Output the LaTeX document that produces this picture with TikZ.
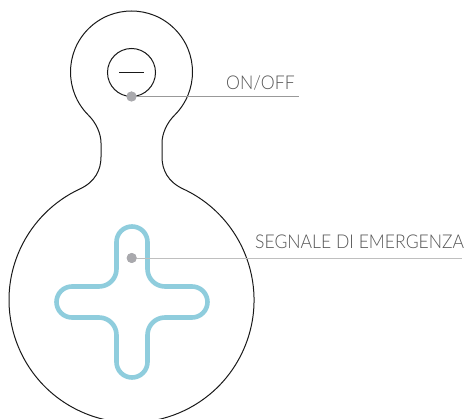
\documentclass[tikz,border=0pt]{standalone}
\usepackage{fontspec}
\setmainfont{Lato}[UprightFont={* Light},FakeStretch=0.925]
\tikzset{
  outline/.style={draw=black!90, line width=1pt},
  crossline/.style={draw=crossblue, line width=4.6pt, line join=round},
  dotmark/.style={circle, fill=dotgray, inner sep=0pt, minimum size=10pt},
  leader/.style={line width=0.9pt},
  labeltext/.style={text=labelgray, font=\fontsize{19}{19}\selectfont, inner sep=0pt, anchor=base west}
}
\definecolor{crossblue}{HTML}{8FCDDD}
\definecolor{dotgray}{HTML}{A9A9AD}
\definecolor{labelgray}{HTML}{555555}
\begin{document}
\begin{tikzpicture}[x=1pt,y=-1pt]
\useasboundingbox (0,0) rectangle (466,419);
\clip (0,0) rectangle (466,419);
% body outline
\draw[outline] (88.37,115.13) arc[start angle=135,end angle=405,radius=61]
  .. controls (166.6,123) and (162,134) .. (162,143)
  -- (162,157)
  .. controls (162,170) and (168,182) .. (183.3,189)
  arc[start angle=-65,end angle=245,radius=122.5]
  .. controls (95,182) and (101,170) .. (101,157)
  -- (101,143)
  .. controls (101,134) and (96.4,123) .. (88.37,115.13) -- cycle;
% button
\draw[outline] (131.5,72.5) circle[radius=24];
\coordinate (minusL) at (119,72.5);
\coordinate (minusR) at (144,72.5);
\draw[outline] (minusL) -- (minusR);
% cross
\draw[crossline] (116.5,242) arc[start angle=180,end angle=360,radius=15.5]
  -- (147.5,269) arc[start angle=180,end angle=90,radius=17.5]
  -- (192,286.5) arc[start angle=-90,end angle=90,radius=15.5]
  -- (165,317.5) arc[start angle=-90,end angle=-180,radius=17.5]
  -- (147.5,362) arc[start angle=0,end angle=180,radius=15.5]
  -- (116.5,335) arc[start angle=0,end angle=-90,radius=17.5]
  -- (72,317.5) arc[start angle=90,end angle=270,radius=15.5]
  -- (99,286.5) arc[start angle=90,end angle=0,radius=17.5]
  -- cycle;
% leaders
\coordinate (onEnd) at (299,96.5);
\coordinate (sgEnd) at (462,258);
\node[dotmark] (onDot) at (131.5,96.5) {};
\node[dotmark] (sgDot) at (131.7,258) {};
\draw[leader,draw=black!40] (onDot.center) -- (onEnd);
\draw[leader,draw=black!25] (sgDot.center) -- (sgEnd);
\node[dotmark] at (onDot) {};
\node[dotmark] at (sgDot) {};
\node[labeltext] (onLabel) at (226,89.5) {ON/OFF};
\node[labeltext] (sgLabel) at (255,248.5) {SEGNALE DI EMERGENZA};
\end{tikzpicture}
\end{document}
